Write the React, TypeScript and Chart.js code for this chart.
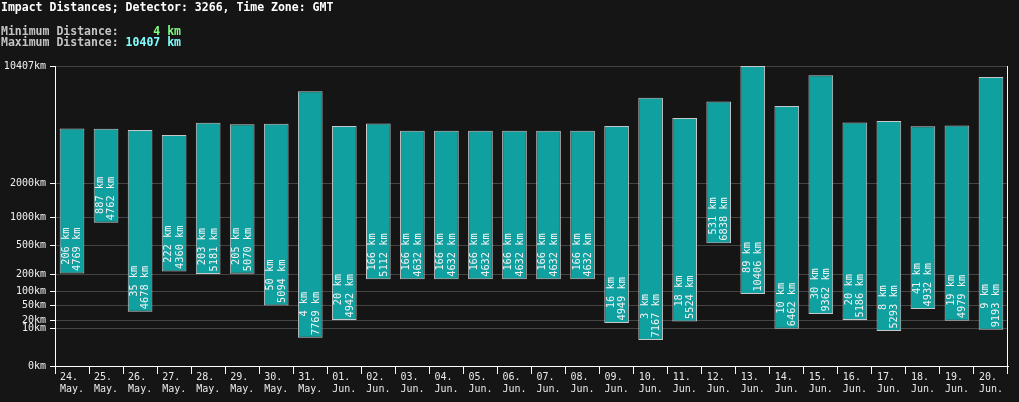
import { useEffect, useRef } from 'react';
import { Chart, registerables, LinearScale } from 'chart.js';

// Daily impact distance ranges (km) per day
const days = ['24.', '25.', '26.', '27.', '28.', '29.', '30.', '31.', '01.', '02.', '03.', '04.', '05.', '06.', '07.', '08.', '09.', '10.', '11.', '12.', '13.', '14.', '15.', '16.', '17.', '18.', '19.', '20.'];
const months = ['May.', 'May.', 'May.', 'May.', 'May.', 'May.', 'May.', 'May.', 'Jun.', 'Jun.', 'Jun.', 'Jun.', 'Jun.', 'Jun.', 'Jun.', 'Jun.', 'Jun.', 'Jun.', 'Jun.', 'Jun.', 'Jun.', 'Jun.', 'Jun.', 'Jun.', 'Jun.', 'Jun.', 'Jun.', 'Jun.'];
const minKm = [206, 887, 35, 222, 203, 205, 50, 4, 20, 166, 166, 166, 166, 166, 166, 166, 16, 3, 18, 531, 89, 10, 30, 20, 8, 41, 19, 9];
const maxKm = [4769, 4762, 4678, 4360, 5181, 5070, 5094, 7769, 4942, 5112, 4632, 4632, 4632, 4632, 4632, 4632, 4949, 7167, 5524, 6838, 10406, 6462, 9362, 5186, 5293, 4932, 4979, 9193];
const yTickValues = [0, 10, 20, 50, 100, 200, 500, 1000, 2000, 10407];

const titleText = 'Impact Distances; Detector: 3266, Time Zone: GMT';
const summaryMinKm = 4;
const summaryMaxKm = 10407;

const MONO = "'DejaVu Sans Mono', 'Liberation Mono', monospace";
const EXP = 0.3;

// Power (x^0.3) value axis
class PowerScale extends LinearScale {
  static id = 'power';
  static defaults = LinearScale.defaults;
  buildTicks() {
    return yTickValues.map((v) => ({ value: v }));
  }
  getPixelForValue(value: number) {
    const top = Math.pow(this.max, EXP);
    return this.getPixelForDecimal(Math.pow(Math.max(0, value), EXP) / top);
  }
  getValueForPixel(pixel: number) {
    const d = this.getDecimalForPixel(pixel);
    return Math.pow(d * Math.pow(this.max, EXP), 1 / EXP);
  }
}

Chart.register(...registerables, PowerScale as any);

const headerPlugin = {
  id: 'header',
  afterDraw(chart: any) {
    const ctx = chart.ctx;
    ctx.save();
    ctx.textBaseline = 'middle';
    ctx.textAlign = 'left';
    ctx.font = `bold 11.5px ${MONO}`;
    ctx.fillStyle = '#ffffff';
    ctx.fillText(titleText, 1, 8.5);

    const rows = [
      { label: 'Minimum Distance: ', value: `${String(summaryMinKm).padStart(5, ' ')} km`, color: '#80ff80', y: 32 },
      { label: 'Maximum Distance: ', value: `${String(summaryMaxKm).padStart(5, ' ')} km`, color: '#80ffff', y: 43 },
    ];
    rows.forEach((r) => {
      ctx.fillStyle = '#c4c4c4';
      ctx.fillText(r.label, 1, r.y);
      const w = ctx.measureText(r.label).width;
      ctx.fillStyle = r.color;
      ctx.fillText(r.value, 1 + w, r.y);
    });

    // right frame line of the plot area
    const a = chart.chartArea;
    ctx.strokeStyle = '#ffffff';
    ctx.lineWidth = 1;
    ctx.beginPath();
    ctx.moveTo(a.right - 0.5, a.top);
    ctx.lineTo(a.right - 0.5, a.bottom);
    ctx.stroke();
    ctx.restore();
  },
};

const barLabelPlugin = {
  id: 'barLabels',
  afterDatasetsDraw(chart: any) {
    const ctx = chart.ctx;
    const meta = chart.getDatasetMeta(0);
    ctx.save();
    ctx.font = `10.3px ${MONO}`;
    ctx.fillStyle = '#f2f2f2';
    ctx.textBaseline = 'middle';
    ctx.textAlign = 'right';
    meta.data.forEach((bar: any, i: number) => {
      const { x, y, base } = bar.getProps(['x', 'y', 'base'], true);
      const bottom = Math.max(y, base);
      const lines = [`${minKm[i]} km`, `${maxKm[i]} km`];
      const w = Math.max(...lines.map((l) => ctx.measureText(l).width));
      ctx.save();
      ctx.translate(x, bottom - 2.5);
      ctx.rotate(-Math.PI / 2);
      lines.forEach((l, k) => ctx.fillText(l, w, (k - 0.5) * 11.4));
      ctx.restore();
    });
    ctx.restore();
  },
};

export default function App() {
  const canvasRef = useRef<HTMLCanvasElement | null>(null);

  useEffect(() => {
    document.body.style.margin = '0';
    document.body.style.background = '#151515';
    const canvas = canvasRef.current;
    if (!canvas) return;

    const chart = new Chart(canvas, {
      type: 'bar',
      data: {
        labels: days.map((d, i) => [d, months[i]]),
        datasets: [
          {
            data: minKm.map((lo, i) => [lo, maxKm[i]]) as any,
            backgroundColor: '#10a0a0',
            borderColor: '#c8c8c8',
            borderWidth: 1,
            borderSkipped: false,
            categoryPercentage: 1,
            barPercentage: 0.725,
          },
        ],
      },
      options: {
        responsive: false,
        animation: false,
        devicePixelRatio: 1,
        layout: { padding: { top: 66, right: 11, bottom: 0, left: 0 } },
        plugins: {
          legend: { display: false },
          title: { display: false },
          tooltip: { enabled: false },
        },
        scales: {
          x: {
            type: 'category',
            offset: true,
            grid: {
              offset: true,
              drawOnChartArea: false,
              drawTicks: true,
              tickLength: 8,
              tickColor: '#ffffff',
              lineWidth: 1,
            },
            border: { display: true, color: '#ffffff', width: 1 },
            ticks: {
              autoSkip: false,
              maxRotation: 0,
              minRotation: 0,
              align: 'start',
              labelOffset: -12,
              padding: -3,
              color: '#e8e8e8',
              font: { family: MONO, size: 10, lineHeight: 1.2 },
            },
            afterFit(scale: any) {
              scale.height = 36;
              scale.paddingLeft = 0;
              scale.paddingRight = 0;
            },
          } as any,
          y: {
            type: 'power',
            min: 0,
            max: summaryMaxKm,
            grid: {
              color: '#444444',
              lineWidth: 1,
              drawTicks: true,
              tickLength: 5,
              tickColor: '#ffffff',
            },
            border: { display: true, color: '#ffffff', width: 1 },
            ticks: {
              autoSkip: false,
              padding: 4,
              color: '#f0f0f0',
              font: { family: MONO, size: 10 },
              callback: (v: any) => `${v}km`,
            },
            afterFit(scale: any) {
              scale.width = 55;
              scale.paddingTop = 0;
              scale.paddingBottom = 0;
            },
          } as any,
        },
      },
      plugins: [barLabelPlugin, headerPlugin],
    });

    return () => chart.destroy();
  }, []);

  return (
    <canvas
      ref={canvasRef}
      width={1019}
      height={402}
      style={{ display: 'block', width: '1019px', height: '402px' }}
    />
  );
}
